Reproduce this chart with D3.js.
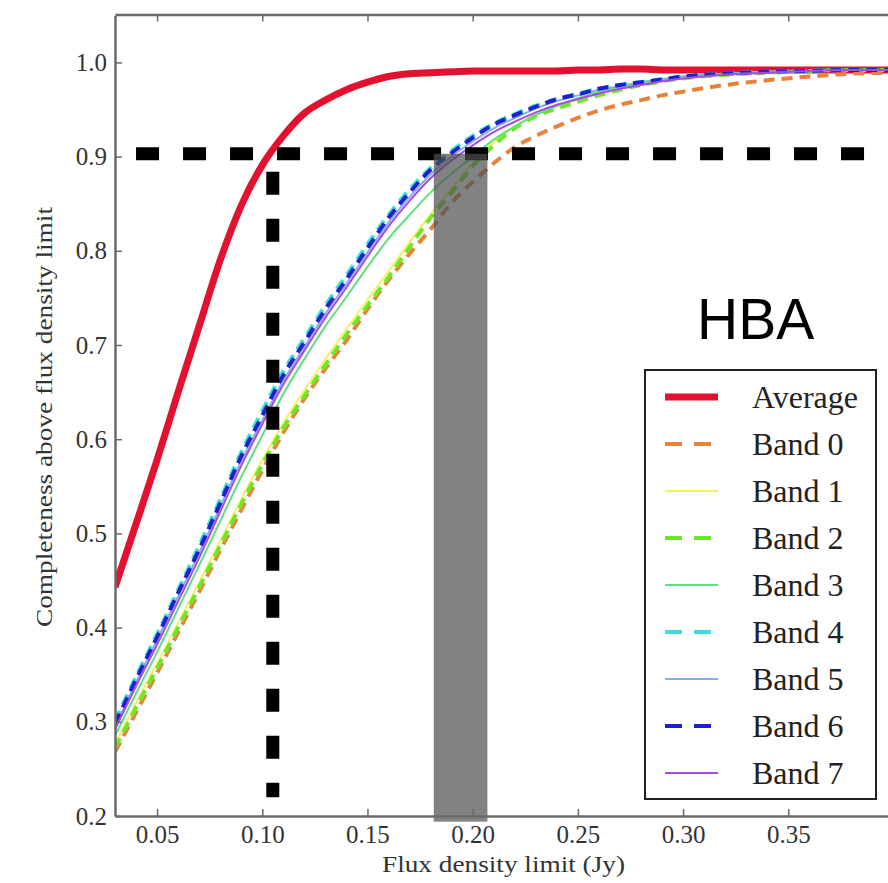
<!DOCTYPE html>
<html>
<head>
<meta charset="utf-8">
<script src="https://cdn.jsdelivr.net/npm/d3@7"></script>
<style>
  body { margin: 0; background: #fff; }
  svg { display: block; }
</style>
</head>
<body>
<div id="app"></div>
<script>
// Flux density limits (Jy)
const fluxLimits = [0.03, 0.04, 0.05, 0.06, 0.07, 0.08, 0.09, 0.10, 0.11, 0.12, 0.13, 0.14, 0.15, 0.16, 0.17,
  0.18, 0.19, 0.20, 0.21, 0.22, 0.23, 0.24, 0.25, 0.26, 0.27, 0.28, 0.29, 0.30, 0.32, 0.34, 0.36, 0.38, 0.40];

// Completeness curves
const average = [0.443, 0.510, 0.578, 0.650, 0.720, 0.790, 0.848, 0.891, 0.922, 0.946, 0.960, 0.971, 0.979, 0.985, 0.988,
  0.989, 0.990, 0.991, 0.991, 0.991, 0.991, 0.991, 0.992, 0.992, 0.993, 0.993, 0.992, 0.992, 0.992, 0.992, 0.992, 0.992, 0.992];
const band0 = [0.268, 0.310, 0.352, 0.395, 0.438, 0.482, 0.525, 0.567, 0.607, 0.643, 0.675, 0.705, 0.738, 0.769, 0.797,
  0.823, 0.851, 0.873, 0.893, 0.910, 0.922, 0.932, 0.941, 0.949, 0.955, 0.960, 0.965, 0.969, 0.976, 0.981, 0.985, 0.988, 0.989];
const band1 = [0.276, 0.320, 0.362, 0.405, 0.448, 0.492, 0.536, 0.578, 0.617, 0.652, 0.685, 0.717, 0.748, 0.778, 0.809,
  0.839, 0.866, 0.893, 0.915, 0.932, 0.945, 0.953, 0.960, 0.967, 0.972, 0.977, 0.981, 0.984, 0.988, 0.990, 0.991, 0.992, 0.992];
const band2 = [0.272, 0.315, 0.357, 0.400, 0.443, 0.487, 0.531, 0.573, 0.612, 0.646, 0.679, 0.711, 0.742, 0.772, 0.804,
  0.835, 0.862, 0.890, 0.912, 0.930, 0.943, 0.951, 0.958, 0.965, 0.971, 0.976, 0.980, 0.983, 0.987, 0.989, 0.991, 0.992, 0.992];
const band3 = [0.285, 0.330, 0.374, 0.420, 0.466, 0.513, 0.560, 0.604, 0.648, 0.685, 0.720, 0.751, 0.783, 0.813, 0.838,
  0.862, 0.882, 0.900, 0.918, 0.932, 0.944, 0.954, 0.962, 0.969, 0.974, 0.978, 0.982, 0.985, 0.988, 0.990, 0.991, 0.992, 0.992];
const band4 = [0.301, 0.348, 0.393, 0.440, 0.487, 0.536, 0.586, 0.630, 0.672, 0.707, 0.742, 0.774, 0.807, 0.838, 0.865,
  0.888, 0.906, 0.922, 0.935, 0.945, 0.954, 0.961, 0.967, 0.972, 0.976, 0.979, 0.982, 0.985, 0.988, 0.990, 0.991, 0.992, 0.992];
const band5 = [0.295, 0.342, 0.387, 0.433, 0.479, 0.528, 0.577, 0.620, 0.662, 0.698, 0.733, 0.765, 0.798, 0.830, 0.857,
  0.881, 0.900, 0.916, 0.930, 0.941, 0.951, 0.959, 0.965, 0.971, 0.975, 0.979, 0.982, 0.985, 0.988, 0.990, 0.991, 0.992, 0.992];
const band6 = [0.298, 0.345, 0.390, 0.437, 0.483, 0.532, 0.582, 0.625, 0.668, 0.703, 0.738, 0.770, 0.803, 0.835, 0.862,
  0.886, 0.904, 0.920, 0.934, 0.944, 0.953, 0.961, 0.966, 0.972, 0.976, 0.979, 0.982, 0.985, 0.988, 0.990, 0.991, 0.992, 0.992];
const band7 = [0.292, 0.338, 0.382, 0.428, 0.474, 0.523, 0.572, 0.616, 0.658, 0.694, 0.729, 0.761, 0.794, 0.826, 0.853,
  0.877, 0.896, 0.912, 0.926, 0.937, 0.947, 0.955, 0.961, 0.967, 0.972, 0.976, 0.980, 0.983, 0.987, 0.989, 0.991, 0.992, 0.992];

const seriesNames = ["Average", "Band 0", "Band 1", "Band 2", "Band 3", "Band 4", "Band 5", "Band 6", "Band 7"];
const seriesValues = [average, band0, band1, band2, band3, band4, band5, band6, band7];

// Tick labels
const xTicks = [0.05, 0.10, 0.15, 0.20, 0.25, 0.30, 0.35];
const yTicks = [0.2, 0.3, 0.4, 0.5, 0.6, 0.7, 0.8, 0.9, 1.0];

// 90% completeness marks and the shaded band
const completenessLevel = 0.903;
const averageLimit = 0.105;
const bandRange = [0.1815, 0.207];

// Line styles per series
const styles = [
  { color: "#e3102f", width: 7, dash: null },
  { color: "#e8823a", width: 4, dash: "11 7" },
  { color: "#f2f25a", width: 2, dash: null },
  { color: "#6fe62a", width: 4, dash: "11 7" },
  { color: "#5ee07e", width: 2, dash: null },
  { color: "#38e0d0", width: 4, dash: "11 7" },
  { color: "#86aee0", width: 2, dash: null },
  { color: "#1f1fd0", width: 4, dash: "11 7" },
  { color: "#a84ae8", width: 2, dash: null }
];

const width = 888;
const height = 883;
const plotLeft = 115;
const plotTop = 14.5;
const plotBottom = 816;

const xScale = d3.scaleLinear().domain([0.03, 0.40]).range([plotLeft, plotLeft + 0.37 * 2104]);
const yScale = d3.scaleLinear().domain([0.2, 1.05]).range([plotBottom, plotBottom - 0.85 * 942]);
const plotRight = xScale(0.40);

const svg = d3.select("#app").append("svg")
  .attr("width", width)
  .attr("height", height);

svg.append("defs").append("clipPath").attr("id", "plot")
  .append("rect")
  .attr("x", plotLeft).attr("y", plotTop)
  .attr("width", plotRight - plotLeft).attr("height", plotBottom - plotTop);

// Curves
const line = d3.line()
  .x((d, i) => xScale(fluxLimits[i]))
  .y(d => yScale(d))
  .curve(d3.curveMonotoneX);

const curves = svg.append("g").attr("clip-path", "url(#plot)");
seriesValues.forEach((vals, i) => {
  curves.append("path")
    .datum(vals)
    .attr("d", line)
    .attr("fill", "none")
    .attr("stroke", styles[i].color)
    .attr("stroke-width", styles[i].width)
    .attr("stroke-dasharray", styles[i].dash)
    .attr("stroke-linejoin", "round");
});

// Black dashed guide lines
svg.append("line")
  .attr("x1", xScale(0.04)).attr("x2", plotRight)
  .attr("y1", yScale(completenessLevel)).attr("y2", yScale(completenessLevel))
  .attr("stroke", "#000").attr("stroke-width", 13)
  .attr("stroke-dasharray", "23 24");

svg.append("line")
  .attr("x1", xScale(averageLimit)).attr("x2", xScale(averageLimit))
  .attr("y1", yScale(0.884)).attr("y2", yScale(0.22))
  .attr("stroke", "#000").attr("stroke-width", 13)
  .attr("stroke-dasharray", "23 24");

// Shaded band of per-band limits
svg.append("rect")
  .attr("x", xScale(bandRange[0]))
  .attr("y", yScale(completenessLevel))
  .attr("width", xScale(bandRange[1]) - xScale(bandRange[0]))
  .attr("height", yScale(0.194) - yScale(completenessLevel))
  .attr("fill", "#4d4f52")
  .attr("fill-opacity", 0.71);

// Axes, ticks pointing inward
const axisColor = "#6a6a6a";

const xAxis = svg.append("g")
  .attr("transform", `translate(0, ${plotBottom})`)
  .call(d3.axisBottom(xScale).tickValues(xTicks).tickFormat(d3.format(".2f"))
    .tickSizeInner(-7).tickSizeOuter(0).tickPadding(9));

const xTop = svg.append("g")
  .attr("transform", `translate(0, ${plotTop})`)
  .call(d3.axisTop(xScale).tickValues(xTicks).tickFormat("")
    .tickSizeInner(-7).tickSizeOuter(0));

const yAxis = svg.append("g")
  .attr("transform", `translate(${plotLeft}, 0)`)
  .call(d3.axisLeft(yScale).tickValues(yTicks).tickFormat(d3.format(".1f"))
    .tickSizeInner(-7).tickSizeOuter(0).tickPadding(8));

[xAxis, xTop, yAxis].forEach(g => {
  g.select(".domain").attr("stroke", axisColor).attr("stroke-width", 2.5);
  g.selectAll(".tick line").attr("stroke", axisColor).attr("stroke-width", 1.5);
});

xAxis.selectAll(".tick text")
  .attr("font-family", "Liberation Serif, Times New Roman, serif")
  .attr("font-size", 25)
  .attr("fill", "#333");

yAxis.selectAll(".tick text")
  .attr("font-family", "Liberation Serif, Times New Roman, serif")
  .attr("font-size", 25)
  .attr("fill", "#333");

// Axis labels
svg.append("text")
  .text("Flux density limit (Jy)")
  .attr("x", 382)
  .attr("y", 872)
  .attr("font-family", "Liberation Serif, Times New Roman, serif")
  .attr("font-size", 24)
  .attr("fill", "#333")
  .attr("textLength", 243)
  .attr("lengthAdjust", "spacingAndGlyphs");

svg.append("text")
  .text("Completeness above flux density limit")
  .attr("text-anchor", "middle")
  .attr("transform", "translate(52, 417) rotate(-90)")
  .attr("font-family", "Liberation Serif, Times New Roman, serif")
  .attr("font-size", 23)
  .attr("fill", "#333")
  .attr("textLength", 420)
  .attr("lengthAdjust", "spacingAndGlyphs");

// HBA label
svg.append("text")
  .text("HBA")
  .attr("x", 697)
  .attr("y", 339)
  .attr("font-family", "Liberation Sans, Arial, sans-serif")
  .attr("font-size", 57)
  .attr("fill", "#000");

// Legend
const legend = svg.append("g");
legend.append("rect")
  .attr("x", 645).attr("y", 370)
  .attr("width", 231).attr("height", 429)
  .attr("fill", "#fff")
  .attr("stroke", "#222")
  .attr("stroke-width", 2);

seriesNames.forEach((name, i) => {
  const cy = 397 + i * 47;
  legend.append("line")
    .attr("x1", 665).attr("x2", 718)
    .attr("y1", cy).attr("y2", cy)
    .attr("stroke", styles[i].color)
    .attr("stroke-width", styles[i].width)
    .attr("stroke-dasharray", styles[i].dash ? "17 12" : null);
  legend.append("text")
    .text(name)
    .attr("x", 752)
    .attr("y", cy + 11)
    .attr("font-family", "Liberation Serif, Times New Roman, serif")
    .attr("font-size", 32)
    .attr("fill", "#222");
});
</script>
</body>
</html>
